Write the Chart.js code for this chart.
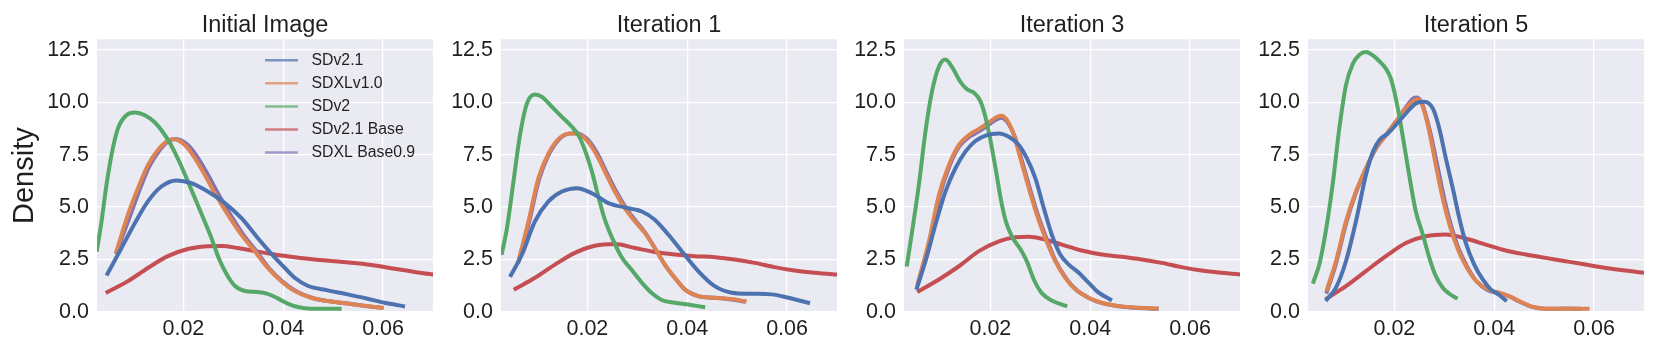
<!DOCTYPE html>
<html>
<head>
<meta charset="utf-8">
<script src="https://cdn.jsdelivr.net/npm/chart.js@4.4.1/dist/chart.umd.min.js"></script>
<style>
  html, body { margin: 0; padding: 0; background: #fff; }
  body { width: 1661px; height: 356px; position: relative; overflow: hidden; }
  canvas { position: absolute; top: 0; }
</style>
</head>
<body>
<script>
const panelTitles = ["Initial Image", "Iteration 1", "Iteration 3", "Iteration 5"];
const seriesNames = ["SDv2.1", "SDXLv1.0", "SDv2", "SDv2.1 Base", "SDXL Base0.9"];
const xTicks = [0.02, 0.04, 0.06];
const yTicks = [0, 2.5, 5, 7.5, 10, 12.5];

// density curves, [x, y]
const initBlue = [[0.0048,1.82],[0.0076,3.05],[0.0103,4.24],[0.0129,5.27],[0.0156,5.98],[0.0186,6.27],[0.0216,6.14],[0.0249,5.74],[0.0283,5.19],[0.0316,4.48],[0.0349,3.53],[0.0383,2.6],[0.04,2.18],[0.0423,1.63],[0.0449,1.25],[0.0489,1.03],[0.0529,0.84],[0.0569,0.63],[0.0603,0.44],[0.064,0.28]];
const initOrange = [[0.0066,2.9],[0.0089,4.64],[0.0109,5.9],[0.0129,7.0],[0.0149,7.72],[0.0168,8.15],[0.018,8.23],[0.0203,7.96],[0.0223,7.33],[0.0243,6.53],[0.0263,5.66],[0.0289,4.64],[0.0316,3.69],[0.0343,2.9],[0.0369,2.1],[0.0396,1.47],[0.0423,1.0],[0.0456,0.68],[0.0489,0.52],[0.0529,0.4],[0.0569,0.28],[0.0597,0.2]];
const initGreen = [[0.0027,2.97],[0.0036,4.3],[0.0046,6.06],[0.0056,7.48],[0.0069,8.75],[0.0086,9.38],[0.0103,9.51],[0.0123,9.38],[0.0143,9.03],[0.0158,8.6],[0.0173,8.05],[0.0193,7.1],[0.0213,6.0],[0.0235,4.75],[0.0255,3.6],[0.0272,2.5],[0.0289,1.7],[0.0303,1.25],[0.0323,1.0],[0.0349,0.95],[0.0369,0.86],[0.0389,0.65],[0.0409,0.4],[0.0429,0.24],[0.0456,0.16],[0.0513,0.16]];
const initRed = [[0.0048,0.95],[0.0089,1.47],[0.0129,2.1],[0.0169,2.66],[0.0209,3.0],[0.0249,3.13],[0.0276,3.15],[0.0309,3.05],[0.0343,2.9],[0.0383,2.74],[0.0423,2.61],[0.0463,2.5],[0.0503,2.42],[0.0543,2.33],[0.0583,2.22],[0.0623,2.06],[0.0663,1.91],[0.07,1.79],[0.072,1.75]];
const initPurple = [[0.0066,2.85],[0.0092,4.5],[0.0112,5.8],[0.0132,6.95],[0.0152,7.7],[0.0172,8.17],[0.0185,8.25],[0.0208,7.98],[0.0229,7.35],[0.0249,6.55],[0.0269,5.66],[0.0294,4.64],[0.032,3.69],[0.0346,2.9],[0.0371,2.1],[0.0398,1.47],[0.0425,1.0],[0.0457,0.68],[0.049,0.52],[0.053,0.4],[0.057,0.27],[0.0597,0.2]];

const iter1Blue = [[0.0047,1.76],[0.0069,2.74],[0.0095,4.32],[0.0122,5.27],[0.0149,5.74],[0.0179,5.9],[0.0209,5.66],[0.0242,5.19],[0.0275,4.98],[0.0309,4.79],[0.0335,4.4],[0.0362,3.69],[0.0389,2.9],[0.0422,1.95],[0.0455,1.23],[0.0489,0.92],[0.0529,0.87],[0.0569,0.84],[0.0602,0.68],[0.0642,0.44]];
const iter1Orange = [[0.0062,2.42],[0.0082,4.32],[0.0102,6.38],[0.0122,7.56],[0.0142,8.24],[0.0162,8.5],[0.0175,8.51],[0.0195,8.28],[0.0215,7.64],[0.0235,6.69],[0.0255,5.74],[0.0275,4.95],[0.0295,4.32],[0.0315,3.77],[0.0335,3.05],[0.0355,2.26],[0.0375,1.63],[0.0395,1.08],[0.0422,0.76],[0.0455,0.68],[0.0489,0.62],[0.0515,0.52]];
const iter1Green = [[0.0029,2.82],[0.0039,4.0],[0.0052,6.22],[0.0065,8.43],[0.0079,9.94],[0.0095,10.36],[0.0109,10.25],[0.0129,9.78],[0.0149,9.3],[0.0169,8.83],[0.0182,8.43],[0.0195,7.72],[0.0209,6.7],[0.0222,5.5],[0.0235,4.4],[0.0252,3.4],[0.0269,2.6],[0.0289,2.0],[0.0309,1.4],[0.0329,0.9],[0.0349,0.57],[0.0375,0.44],[0.0402,0.36],[0.0432,0.24]];
const iter1Red = [[0.0056,1.11],[0.0095,1.63],[0.0135,2.26],[0.0175,2.82],[0.0215,3.16],[0.0255,3.24],[0.0295,3.05],[0.0335,2.86],[0.0375,2.74],[0.0415,2.66],[0.0455,2.61],[0.0495,2.5],[0.0535,2.34],[0.0575,2.14],[0.0615,1.98],[0.0655,1.87],[0.07,1.79],[0.072,1.76]];
const iter1Purple = [[0.0062,2.4],[0.0083,4.25],[0.0103,6.3],[0.0123,7.52],[0.0143,8.22],[0.0163,8.5],[0.0177,8.52],[0.0197,8.3],[0.0217,7.68],[0.0237,6.73],[0.0257,5.78],[0.0277,4.98],[0.0297,4.34],[0.0316,3.77],[0.0335,3.05],[0.0355,2.26],[0.0375,1.63],[0.0395,1.08],[0.0422,0.76],[0.0455,0.68],[0.0489,0.6],[0.0513,0.5]];

const iter3Blue = [[0.0053,1.16],[0.007,2.42],[0.009,4.16],[0.011,5.74],[0.013,6.85],[0.015,7.64],[0.017,8.15],[0.0193,8.43],[0.0217,8.51],[0.0237,8.35],[0.0257,7.96],[0.0273,7.33],[0.029,6.38],[0.0307,4.95],[0.0323,3.69],[0.034,2.74],[0.0357,2.26],[0.0377,1.87],[0.0397,1.39],[0.0417,0.92],[0.044,0.6]];
const iter3Orange = [[0.0055,1.39],[0.0077,3.37],[0.0097,5.59],[0.0117,7.01],[0.0137,7.96],[0.0157,8.43],[0.0177,8.72],[0.0197,9.03],[0.021,9.26],[0.0222,9.35],[0.0233,9.15],[0.0247,8.43],[0.026,7.33],[0.0277,5.9],[0.0293,4.64],[0.031,3.53],[0.033,2.42],[0.035,1.63],[0.037,1.08],[0.0397,0.68],[0.0423,0.44],[0.0457,0.28],[0.049,0.21],[0.0533,0.17]];
const iter3Green = [[0.0033,2.26],[0.0043,3.8],[0.0057,6.1],[0.007,8.6],[0.0083,10.5],[0.0097,11.7],[0.011,12.03],[0.0123,11.68],[0.014,10.97],[0.0153,10.62],[0.0167,10.45],[0.018,10.05],[0.019,9.3],[0.02,8.2],[0.021,6.9],[0.022,5.5],[0.023,4.4],[0.0243,3.6],[0.026,3.0],[0.0273,2.42],[0.0287,1.55],[0.0303,0.9],[0.0323,0.55],[0.035,0.3]];
const iter3Red = [[0.0057,1.0],[0.0097,1.55],[0.0137,2.18],[0.0177,2.9],[0.0217,3.37],[0.025,3.56],[0.0277,3.59],[0.031,3.45],[0.0343,3.21],[0.0383,2.93],[0.0423,2.74],[0.0463,2.63],[0.0503,2.5],[0.0543,2.34],[0.0583,2.14],[0.0623,1.98],[0.0663,1.87],[0.07,1.79],[0.072,1.75]];
const iter3Purple = [[0.0055,1.35],[0.0078,3.3],[0.0098,5.5],[0.0118,6.95],[0.0138,7.9],[0.0158,8.35],[0.0178,8.62],[0.0198,8.95],[0.021,9.15],[0.0222,9.26],[0.0234,9.05],[0.0249,8.35],[0.0262,7.3],[0.0279,5.9],[0.0295,4.64],[0.0312,3.53],[0.0331,2.42],[0.0351,1.63],[0.0371,1.08],[0.0398,0.66],[0.0424,0.42],[0.0458,0.27],[0.049,0.2],[0.0533,0.16]];

const iter5Blue = [[0.0065,0.6],[0.0083,1.16],[0.0103,2.42],[0.0123,4.32],[0.0143,6.53],[0.0157,7.64],[0.017,8.2],[0.0187,8.51],[0.0203,8.91],[0.0223,9.46],[0.0243,9.94],[0.026,10.02],[0.0277,9.7],[0.029,8.75],[0.0303,7.33],[0.0317,5.9],[0.033,4.48],[0.0343,3.29],[0.036,2.26],[0.0377,1.55],[0.0393,1.08],[0.041,0.81],[0.0422,0.57]];
const iter5Orange = [[0.0065,1.08],[0.0083,2.42],[0.0103,4.32],[0.0123,5.74],[0.0143,6.85],[0.0163,7.8],[0.0183,8.43],[0.0203,9.07],[0.0223,9.7],[0.024,10.09],[0.0247,10.14],[0.0257,9.78],[0.027,8.59],[0.0283,7.0],[0.0297,5.4],[0.031,4.2],[0.0327,3.0],[0.0343,2.2],[0.0363,1.5],[0.0387,1.08],[0.041,0.92],[0.043,0.76],[0.045,0.52],[0.0477,0.25],[0.0503,0.16],[0.0543,0.16],[0.0587,0.16]];
const iter5Green = [[0.0038,1.44],[0.005,2.3],[0.0063,3.9],[0.0077,6.2],[0.009,8.8],[0.0103,10.8],[0.0117,11.84],[0.013,12.26],[0.0143,12.39],[0.0157,12.23],[0.017,11.95],[0.0183,11.6],[0.0193,11.12],[0.0203,10.17],[0.0213,8.91],[0.0223,7.48],[0.0233,6.06],[0.0243,4.79],[0.0257,3.69],[0.027,2.58],[0.0283,1.71],[0.0297,1.16],[0.031,0.87],[0.0323,0.68]];
const iter5Red = [[0.0065,0.65],[0.0103,1.23],[0.0143,1.95],[0.0183,2.66],[0.0223,3.29],[0.0263,3.61],[0.0303,3.69],[0.0343,3.5],[0.0383,3.21],[0.0423,2.93],[0.0463,2.74],[0.0503,2.58],[0.0543,2.42],[0.0583,2.26],[0.0623,2.1],[0.0663,1.98],[0.07,1.87],[0.072,1.83]];
const iter5Purple = [[0.0065,0.97],[0.0083,2.3],[0.0103,4.2],[0.0123,5.68],[0.0143,6.82],[0.0163,7.78],[0.0183,8.43],[0.0203,9.07],[0.0223,9.75],[0.0238,10.18],[0.0245,10.22],[0.0256,9.9],[0.0271,8.65],[0.0285,7.1],[0.0299,5.5],[0.0312,4.25],[0.0329,3.0],[0.0345,2.2],[0.0365,1.45],[0.0387,1.04],[0.041,0.9],[0.043,0.74],[0.045,0.5],[0.0477,0.23],[0.0503,0.15],[0.0545,0.17],[0.057,0.15]];

const panelSeries = [
  [initBlue, initOrange, initGreen, initRed, initPurple],
  [iter1Blue, iter1Orange, iter1Green, iter1Red, iter1Purple],
  [iter3Blue, iter3Orange, iter3Green, iter3Red, iter3Purple],
  [iter5Blue, iter5Orange, iter5Green, iter5Red, iter5Purple],
];

// seaborn "deep" palette
const lineColors = ["#4C72B0", "#DD8452", "#55A868", "#C44E52", "#8172B3"];
const legendColors = ["rgba(76,114,176,0.7)", "rgba(221,132,82,0.7)", "rgba(85,168,104,0.7)", "rgba(196,78,82,0.7)", "rgba(129,114,179,0.7)"];
const drawOrder = [0, 2, 1, 4, 3]; // lower = on top

const FONT = '"Liberation Sans", Arial, sans-serif';
const TEXT = "#1f1f1f";
Chart.defaults.font.family = FONT;
Chart.defaults.color = TEXT;

const plotLefts = [97, 501, 904, 1308];
const plotWidth = 336;

const bgPlugin = {
  id: "plotBg",
  beforeDraw(chart) {
    const { ctx, chartArea: a } = chart;
    ctx.save();
    ctx.fillStyle = "#EAEAF2";
    ctx.fillRect(a.left, a.top, a.right - a.left, a.bottom - a.top);
    ctx.restore();
  },
};

const legendPlugin = {
  id: "insideLegend",
  afterDraw(chart) {
    const { ctx, chartArea: a } = chart;
    ctx.save();
    ctx.font = "15.8px " + FONT;
    ctx.textBaseline = "middle";
    ctx.fillStyle = TEXT;
    seriesNames.forEach((name, i) => {
      const y = a.top + 21 + i * 23.1;
      const x0 = a.right - 168;
      ctx.strokeStyle = legendColors[i];
      ctx.lineWidth = 2.5;
      ctx.beginPath();
      ctx.moveTo(x0, y);
      ctx.lineTo(x0 + 33, y);
      ctx.stroke();
      ctx.fillText(name, x0 + 46.5, y);
    });
    ctx.restore();
  },
};

panelSeries.forEach((series, p) => {
  const axisW = p === 0 ? 97 : 66;
  const padRight = p === 3 ? 17 : 2;
  const canvas = document.createElement("canvas");
  canvas.width = axisW + plotWidth + padRight;
  canvas.height = 356;
  canvas.style.left = (plotLefts[p] - axisW) + "px";
  document.body.appendChild(canvas);

  new Chart(canvas, {
    type: "line",
    data: {
      datasets: series.map((pts, i) => ({
        label: seriesNames[i],
        data: pts,
        borderColor: lineColors[i],
        borderWidth: 4,
        borderCapStyle: "square",
        pointRadius: 0,
        cubicInterpolationMode: "monotone",
        order: drawOrder[i],
      })),
    },
    options: {
      responsive: false,
      animation: false,
      devicePixelRatio: 1,
      layout: { padding: { left: 0, right: padRight, top: 0, bottom: 0 } },
      plugins: {
        legend: { display: false },
        tooltip: { enabled: false },
        title: {
          display: true,
          text: panelTitles[p],
          fullSize: false,
          color: TEXT,
          font: { size: 23.5, weight: "normal" },
          padding: { top: 11, bottom: 0 },
        },
      },
      scales: {
        x: {
          type: "linear",
          min: 0.0027,
          max: 0.07,
          afterFit: (s) => { s.height = 44; },
          afterBuildTicks: (s) => { s.ticks = xTicks.map((v) => ({ value: v })); },
          grid: { color: "#ffffff", lineWidth: 1.3, drawTicks: false },
          border: { display: false },
          ticks: {
            padding: 4,
            color: TEXT,
            font: { size: 21.5 },
            maxRotation: 0,
            autoSkip: false,
            callback: (v) => v.toFixed(2),
          },
        },
        y: {
          min: 0,
          max: 13,
          afterFit: (s) => { s.width = axisW; },
          afterBuildTicks: (s) => { s.ticks = yTicks.map((v) => ({ value: v })); },
          grid: { color: "#ffffff", lineWidth: 1.3, drawTicks: false },
          border: { display: false },
          ticks: {
            padding: 8,
            color: TEXT,
            font: { size: 21.5 },
            autoSkip: false,
            callback: (v) => v.toFixed(1),
          },
          title: {
            display: p === 0,
            text: "Density",
            color: TEXT,
            font: { size: 29 },
            padding: { top: 8, bottom: 0 },
          },
        },
      },
    },
    plugins: p === 0 ? [bgPlugin, legendPlugin] : [bgPlugin],
  });
});
</script>
</body>
</html>
